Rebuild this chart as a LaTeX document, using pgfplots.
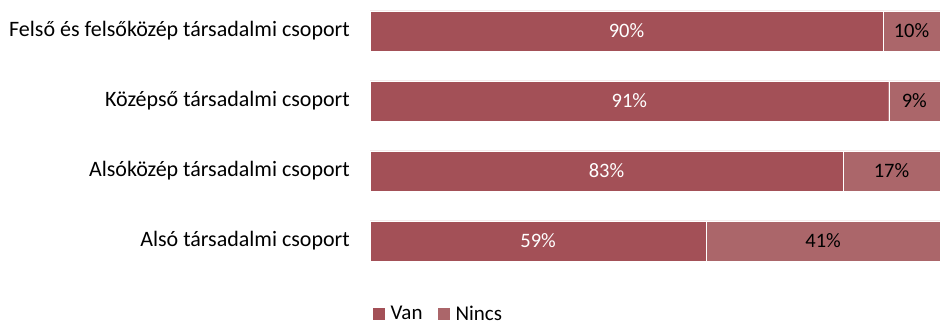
\documentclass[border=0pt]{standalone}
\usepackage{pgfplots}
\usepackage{pgfplotstable}
\pgfplotsset{compat=1.18}
\usepackage{fontspec}
\setmainfont{Carlito}
\definecolor{van}{RGB}{163,80,87}
\definecolor{nincs}{RGB}{171,102,106}
\pgfplotstableread{
c v
0 59
1 83
2 91
3 90
}\vantable
\pgfplotstableread{
c v
0 41
1 17
2 9
3 10
}\nincstable
\begin{document}
\begin{tikzpicture}
\useasboundingbox (0bp,0bp) rectangle (940bp,324bp);
\begin{axis}[
  at={(370bp,48bp)}, anchor=south west,
  scale only axis, width=570bp, height=273bp,
  xbar stacked, bar width=40bp,
  xmin=0, xmax=100, ymin=-0.5, ymax=3.4,
  axis line style={draw=none},
  major tick length=0pt,
  xtick=\empty,
  ytick={0,1,2,3},
  yticklabels={Alsó társadalmi csoport, Alsóközép társadalmi csoport, Középső társadalmi csoport, Felső és felsőközép társadalmi csoport},
  yticklabel style={font=\fontsize{22bp}{24bp}\selectfont, inner sep=0pt, xshift=-20bp},
  /pgf/number format/assume math mode=true,
  point meta=\thisrow{v},
  nodes near coords={\pgfmathprintnumber{\pgfplotspointmeta}\%},
  every node near coord/.append style={font=\fontsize{20.5bp}{24bp}\selectfont, anchor=center},
  legend style={at={(0.12,-0.139)}, anchor=center, draw=none, fill=none, legend columns=-1,
    font=\fontsize{21bp}{24bp}\selectfont, inner sep=0pt,
    nodes={inner xsep=1.5bp, inner ysep=0bp},
    /tikz/every odd column/.append style={column sep=4bp},
    /tikz/every even column/.append style={column sep=14bp}},
  legend image code/.code={\fill[#1,draw=none] (0bp,-6bp) rectangle (12bp,6bp);},
]
\addplot[fill=van, draw=white, line width=0.4bp, every node near coord/.append style={text=white}]
  table[x=v, y=c] {\vantable};
\addplot[fill=nincs, draw=white, line width=0.4bp, every node near coord/.append style={text=black}]
  table[x=v, y=c] {\nincstable};
\legend{Van, Nincs}
\end{axis}
\end{tikzpicture}
\end{document}
